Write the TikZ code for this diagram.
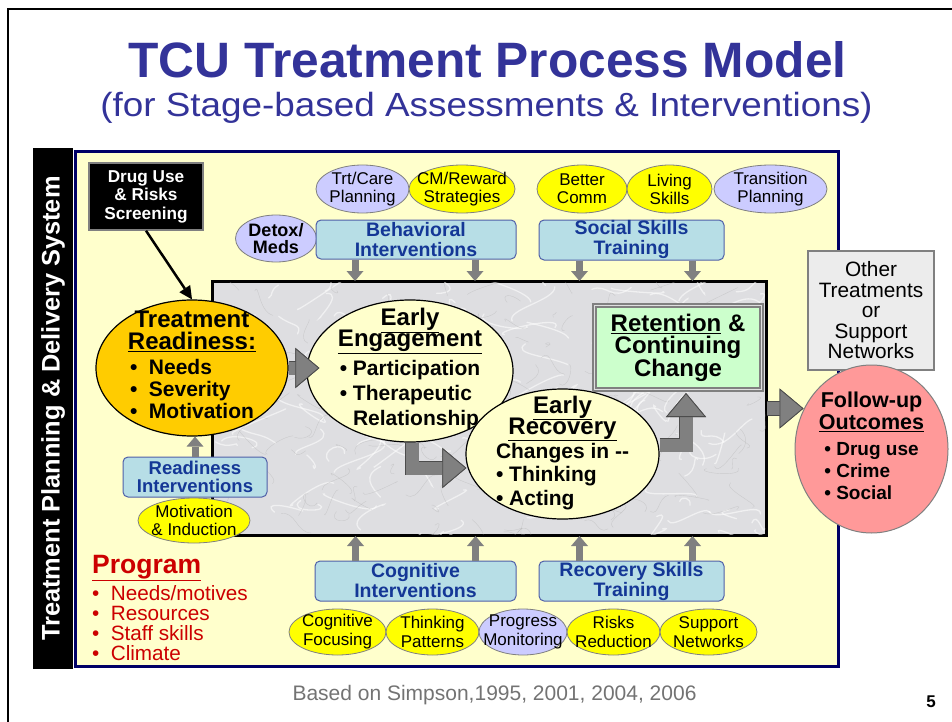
\documentclass[tikz,border=0pt]{standalone}
\usepackage{fontspec}
\setmainfont{Liberation Sans}
\usetikzlibrary{shapes.geometric,arrows.meta,calc}

\newcommand\fsz[2]{\fontsize{#1}{#2}\selectfont}
\newcommand\widebul{•\hspace{0.55em}}

\definecolor{titleblue}{RGB}{51,51,153}
\definecolor{panelyellow}{RGB}{255,255,204}
\definecolor{panelnavy}{RGB}{0,0,102}
\definecolor{marble}{RGB}{222,222,225}
\definecolor{boxcyan}{RGB}{183,222,230}
\definecolor{boxline}{RGB}{80,96,168}
\definecolor{boxtext}{RGB}{20,55,150}
\definecolor{lavender}{RGB}{204,204,255}
\definecolor{lemon}{RGB}{255,255,0}
\definecolor{amber}{RGB}{255,204,0}
\definecolor{mint}{RGB}{204,255,204}
\definecolor{salmon}{RGB}{255,153,153}
\definecolor{progred}{RGB}{204,0,0}
\definecolor{arrowgray}{RGB}{128,128,128}

\tikzset{
  oval/.style={ellipse, draw=gray, line width=0.8pt, inner sep=-20pt, align=center, font=\fsz{17}{18}},
  lemonoval/.style={oval, fill=lemon},
  lavoval/.style={oval, fill=lavender},
  stage/.style={ellipse, draw=black, line width=1.2pt, fill=panelyellow, inner sep=-40pt, align=center, font=\bfseries\fsz{21}{22}},
  ibox/.style={draw=boxline, fill=boxcyan, line width=1pt, rounded corners=5pt, inner sep=0pt, align=center, text=boxtext, font=\bfseries\fsz{19.5}{20}},
  smallarrow/.style={draw=arrowgray, line width=7pt, -{Triangle[length=10pt,width=17pt,line width=0pt]}},
  bigtip/.style={-{Triangle[length=24pt,width=40pt,line width=0.8pt,color=black!70,fill=arrowgray]}},
  bigarrow/.style={draw=arrowgray, line width=13pt, bigtip, preaction={draw=black!70, line width=14.6pt, bigtip}},
}

\begin{document}
\begin{tikzpicture}[x=1pt,y=-1pt]
\useasboundingbox (0,0) rectangle (952,722);
% slide frame
\draw[line width=2pt] (8,760) -- (8,9) -- (990,9);

% title
\node[anchor=base, text=titleblue, font=\bfseries\fsz{49.7}{50}] (title) at (487.5,78) {TCU Treatment Process Model};
\node[anchor=base, text=titleblue, font=\fsz{33.5}{34}] (subtitle) at (486.5,117) {\scalebox{1.1}[1]{(for Stage-based Assessments \& Interventions)}};

% panel and side bar
\node[draw=panelnavy, line width=3pt, fill=panelyellow, minimum width=763pt, minimum height=515pt, inner sep=0pt] (panel) at (456.5,409) {};
\node[rotate=90, fill=black, text=white, minimum width=521pt, minimum height=40pt, inner sep=0pt, font=\bfseries\fsz{25.4}{26}] (sidebar) at (53,408.5) {Treatment Planning \& Delivery System};
\node[draw=black, line width=2pt, fill=marble, minimum width=553pt, minimum height=253pt, inner sep=0pt] (marble) at (489.5,408.5) {};
% marble veins
\begin{scope}
  \clip (marble.south west) rectangle (marble.north east);
  \pgfmathsetseed{11}
  \foreach \i in {1,...,140}
    \draw[white, line width=1.3pt, opacity=0.55, line cap=round]
      ({213+rnd*553},{282+rnd*253}) .. controls +({rand*20},{rand*15}) and +({rand*20},{rand*15}) .. +({rand*55},{rand*35});
  \foreach \i in {1,...,140}
    \draw[gray!60, line width=0.4pt, opacity=0.45]
      ({213+rnd*553},{282+rnd*253}) .. controls +({rand*15},{rand*12}) and +({rand*15},{rand*12}) .. +({rand*35},{rand*25});
\end{scope}
\draw[line width=2pt] (marble.south west) rectangle (marble.north east);

% top interventions
\node[lavoval, font=\bfseries\fsz{18}{17.5}, minimum width=81pt, minimum height=47pt] (detox) at (276,238.5) {Detox/\\Meds};
\node[lavoval, minimum width=93pt, minimum height=48pt] (trtcare) at (362.5,189) {Trt/Care\\Planning};
\node[lemonoval, minimum width=106pt, minimum height=48pt] (cmreward) at (462,189) {CM/Reward\\Strategies};
\node[lemonoval, minimum width=90pt, minimum height=48pt] (bettercomm) at (582,189) {Better\\Comm};
\node[lemonoval, minimum width=85pt, minimum height=48pt] (living) at (669.5,189) {Living\\Skills};
\node[lavoval, minimum width=113pt, minimum height=48pt] (transition) at (770.5,189) {Transition\\Planning};
\node[ibox, minimum width=200pt, minimum height=39pt] (behav) at (416,239.5) {Behavioral\\Interventions};
\node[ibox, minimum width=185pt, minimum height=40pt] (social) at (631.5,240) {Social Skills\\Training};

% bottom interventions
\node[ibox, minimum width=201pt, minimum height=40pt] (cognitive) at (415.5,581) {Cognitive\\Interventions};
\node[ibox, minimum width=185pt, minimum height=40pt] (recskills) at (631.5,581) {Recovery Skills\\Training};
\node[lemonoval, font=\fsz{17}{19}, minimum width=97pt, minimum height=46pt] (cogfocus) at (337.5,632) {Cognitive\\Focusing};
\node[lemonoval, font=\fsz{17}{19}, minimum width=93pt, minimum height=46pt] (thinkpat) at (432.5,632) {Thinking\\Patterns};
\node[lavoval, font=\fsz{17}{19}, minimum width=88pt, minimum height=46pt] (progmon) at (523,632) {Progress\\Monitoring};
\node[lemonoval, font=\fsz{17}{19}, minimum width=93pt, minimum height=46pt] (risks) at (613.5,632) {Risks\\Reduction};
\node[lemonoval, font=\fsz{17}{19}, minimum width=97pt, minimum height=46pt] (supnet) at (708.5,632) {Support\\Networks};

\draw[smallarrow] ($(behav.south)+(-61,0)$) -- ($(behav.south |- marble.north)+(-61,0)$);
\draw[smallarrow] ($(behav.south)+(59,0)$) -- ($(behav.south |- marble.north)+(59,0)$);
\draw[smallarrow] ($(social.south)+(-52,0)$) -- ($(social.south |- marble.north)+(-52,0)$);
\draw[smallarrow] ($(social.south)+(61,0)$) -- ($(social.south |- marble.north)+(61,0)$);
\draw[smallarrow] ($(cognitive.north)+(-60,0)$) -- ($(cognitive.north |- marble.south)+(-60,0)$);
\draw[smallarrow] ($(cognitive.north)+(60,0)$) -- ($(cognitive.north |- marble.south)+(60,0)$);
\draw[smallarrow] ($(recskills.north)+(-52,0)$) -- ($(recskills.north |- marble.south)+(-52,0)$);
\draw[smallarrow] ($(recskills.north)+(61,0)$) -- ($(recskills.north |- marble.south)+(61,0)$);

% readiness
\node[ibox, font=\bfseries\fsz{18.5}{17.5}, minimum width=144pt, minimum height=40pt] (readint) at (195,477) {Readiness\\Interventions};
\node[lemonoval, minimum width=112pt, minimum height=45pt] (motiv) at (194,520.5) {Motivation\\\& Induction};
\node[fill=black, draw=gray, line width=1.5pt, text=white, font=\bfseries\fsz{17.2}{18.5}, minimum width=114pt, minimum height=67pt, inner sep=0pt, align=center] (screen) at (146,196.5) {Drug Use\\\& Risks\\Screening};

% stages
\node[stage, fill=amber, minimum width=192pt, minimum height=136pt] (ready) at (192,368)
  {{\fsz{24}{22}Treatment}\\{\fsz{24}{22}\underline{Readiness:}}\\[3pt]
   \begin{tabular}[t]{@{}l@{}}\widebul Needs\\\widebul Severity\\\widebul Motivation\end{tabular}};
\node[stage, font=\bfseries\fsz{21}{25}, minimum width=206pt, minimum height=142pt] (engage) at (410,371)
  {{\fsz{24}{22}\underline{Early}}\\[-4pt]{\fsz{24}{22}\underline{Engagement}}\\[4pt]
   \begin{tabular}[t]{@{}l@{}}• Participation\\• Therapeutic\\\phantom{• }Relationship\end{tabular}};
\node[stage, font=\bfseries\fsz{21}{23.5}, minimum width=193pt, minimum height=130pt] (recover) at (562.5,454)
  {{\fsz{24}{22}\underline{Early}}\\[-2.5pt]{\fsz{24}{22}\underline{Recovery}}\\[0.5pt]
   \begin{tabular}[t]{@{}l@{}}Changes in -{}-\\• Thinking\\• Acting\end{tabular}};
\node[draw=gray, line width=2pt, double=gray!25, double distance=1pt, fill=mint, minimum width=167pt, minimum height=84pt, inner sep=0pt, align=center, font=\bfseries\fsz{24}{22.5}] (retain) at (678,347.5)
  {\underline{Retention} \&\\Continuing\\Change};
\node[draw=gray, line width=1.5pt, fill=gray!15, minimum width=126pt, minimum height=119pt, inner sep=0pt, align=center, font=\fsz{20.8}{20.5}] (other) at (871,310.5)
  {Other\\Treatments\\or\\Support\\Networks};
\node[ellipse, draw=gray, line width=1pt, fill=salmon, inner sep=-40pt, align=center, font=\bfseries\fsz{19}{22}, minimum width=153pt, minimum height=168pt] (followup) at (871.5,449)
  {{\fsz{21.5}{22}Follow-up}\\{\fsz{21.5}{22}\underline{Outcomes}}\\[4pt]
   \begin{tabular}[t]{@{}l@{}}• Drug use\\• Crime\\• Social\end{tabular}};

% connectors
\draw[line width=2.5pt, -{Triangle[length=13pt,width=13pt,line width=0pt]}] (screen.south) -- (ready.north);
\draw[smallarrow] (readint.north) -- (readint.north |- ready.south);
\draw[bigarrow] (ready.east) -- ($(ready.east -| engage.west)+(13,0)$);
\draw[bigarrow] ($(engage.south)+(2,0)$) |- ($(recover.west)+(1,14)$);
\draw[bigarrow] ($(recover.east)+(0,-9)$) -| ($(retain.south)+(8,2.5)$);
\draw[bigarrow] (marble.east) -- ($(marble.east -| followup.west)+(9,0)$);

% program and footer
\node[anchor=north west, align=left, text=progred, font=\fsz{20.7}{20}, inner sep=0pt] (program) at (92,555)
  {{\bfseries\fsz{26.5}{22}\underline{Program}}\\[3pt]\widebul Needs/motives\\\widebul Resources\\\widebul Staff skills\\\widebul Climate};
\node[anchor=base, text=black!55, font=\fsz{21}{21}] (footer) at (494.5,700) {Based on Simpson,1995, 2001, 2004, 2006};
\node[anchor=base, font=\bfseries\fsz{17}{17}] (pagenum) at (931,707) {5};
\end{tikzpicture}
\end{document}
